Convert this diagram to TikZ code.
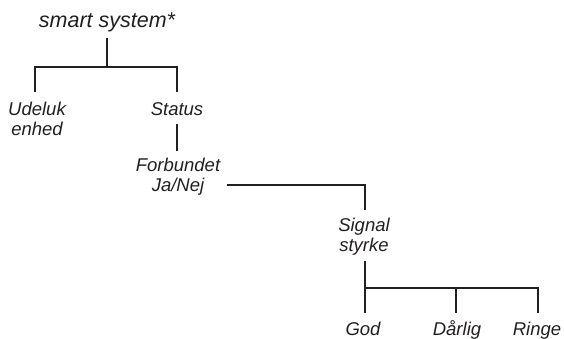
\documentclass[tikz,border=0pt]{standalone}
\usepackage{fontspec}
\setmainfont{Liberation Sans}
\definecolor{ink}{HTML}{231F20}
\begin{document}
\begin{tikzpicture}[x=1pt,y=-1pt,
  lbl/.style={font=\fontsize{18.5}{20}\selectfont\itshape, text=ink, align=center, inner sep=0pt, anchor=base},
  conn/.style={draw=ink, line width=1.8pt}]
\useasboundingbox (0,0) rectangle (564,338);
% labels (base anchor = baseline of the last line)
\node[lbl, font=\fontsize{21.5}{24}\selectfont\itshape] (root) at (107,27) {smart system*};
\node[lbl] (udeluk) at (37,135) {Udeluk\\enhed};
\node[lbl] (status) at (177,115) {Status};
\node[lbl] (forb) at (178,191.5) {Forbundet\\Ja/Nej};
\node[lbl] (signal) at (364,251.5) {Signal\\styrke};
\node[lbl] (god) at (363,335) {God};
\node[lbl] (darlig) at (457,335) {Dårlig};
\node[lbl] (ringe) at (537,335) {Ringe};
% connector endpoints
\coordinate (rootB) at (107,38);
\coordinate (j1) at (107,67);
\coordinate (udT) at (35,92);
\coordinate (stT) at (177,92);
\coordinate (stB) at (177,124);
\coordinate (foT) at (177,151);
\coordinate (foR) at (227,185);
\coordinate (siT) at (365,210);
\coordinate (siB) at (365,261);
\coordinate (j2) at (365,288);
\coordinate (goT) at (365,313);
\coordinate (daT) at (456,313);
\coordinate (riT) at (538,313);
% connectors
\draw[conn] (rootB) -- (j1);
\draw[conn] (udT) |- (j1) -| (stT);
\draw[conn] (stB) -- (foT);
\draw[conn] (foR) -| (siT);
\draw[conn] (siB) -- (goT);
\draw[conn] (j2) -| (riT);
\draw[conn] (daT) -- (daT |- j2);
\end{tikzpicture}
\end{document}
